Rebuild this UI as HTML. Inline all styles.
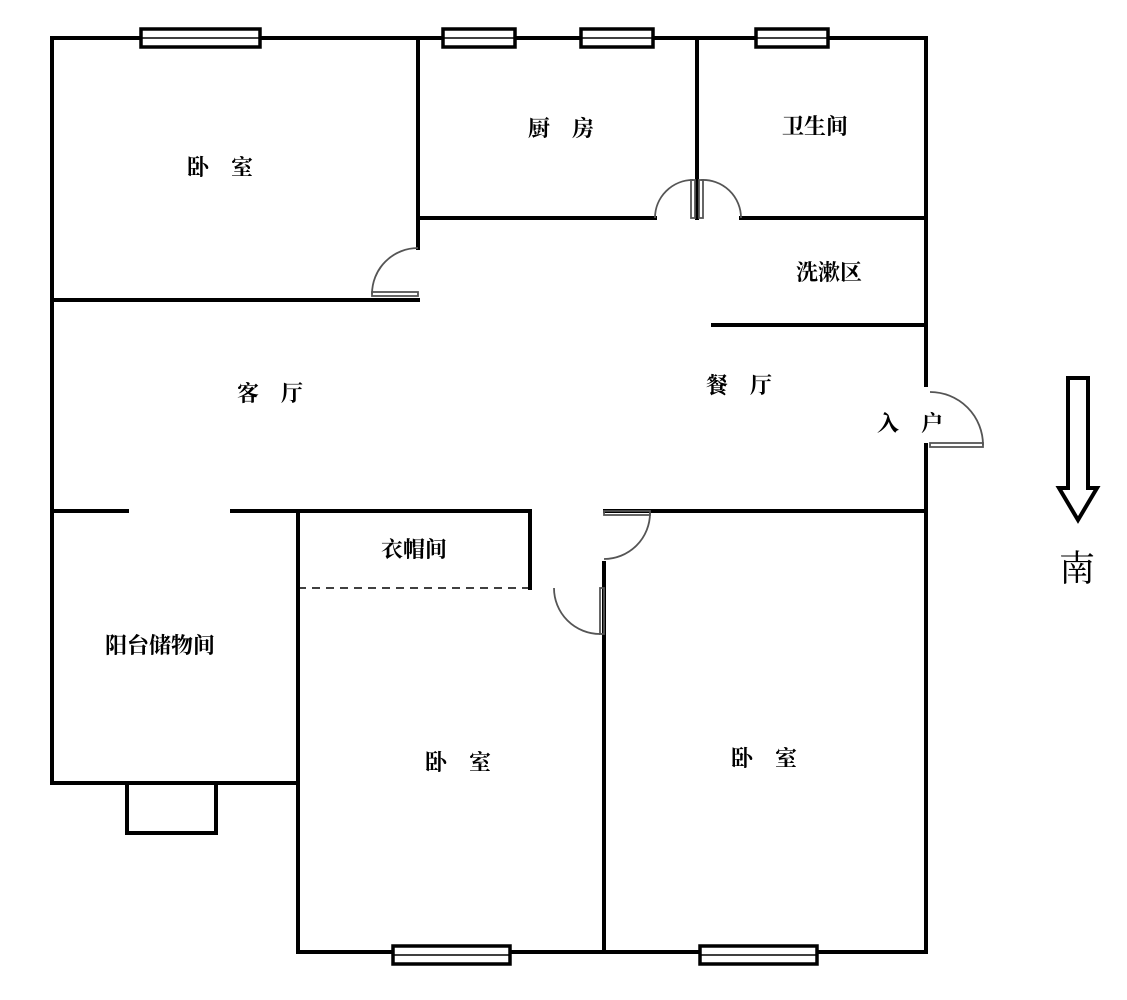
<!DOCTYPE html>
<html><head><meta charset="utf-8"><style>
html,body{margin:0;padding:0;background:#fff;}
svg{display:block;}
text{font-family:"Liberation Serif","Noto Serif CJK SC","Noto Sans CJK SC",serif;font-size:22px;font-weight:bold;fill:#000;text-anchor:middle;dominant-baseline:middle;}
</style></head><body>
<svg width="1127" height="1000" viewBox="0 0 1127 1000" xmlns="http://www.w3.org/2000/svg">
<g stroke="#000" stroke-width="4" fill="none" stroke-linecap="square">
<path d="M52 38 H926 V385 M926 445 V952 H298 V511"/>
<path d="M52 38 V783 H298"/>
<path d="M418 38 V248 M418 300 H52"/>
<path d="M418 218 H655 M741 218 H926"/>
<path d="M697 38 V218"/>
<path d="M713 325 H926"/>
<path d="M52 511 H127 M232 511 H530 V588"/>
<path d="M605 511 H926"/>
<path d="M604 563 V952"/>
<path d="M127 783 V833 H216 V783"/>
</g>
<line x1="298" y1="588" x2="530" y2="588" stroke="#000" stroke-width="1.5" stroke-dasharray="8,6"/>
<g stroke="#000" stroke-width="3.5" fill="#fff">
<rect x="141" y="29" width="119" height="18"/>
<rect x="443" y="29" width="72" height="18"/>
<rect x="581" y="29" width="72" height="18"/>
<rect x="756" y="29" width="72" height="18"/>
<rect x="393" y="946" width="117" height="18"/>
<rect x="700" y="946" width="117" height="18"/>
</g>
<g stroke="#000" stroke-width="1.5">
<line x1="141" y1="38" x2="260" y2="38"/>
<line x1="443" y1="38" x2="515" y2="38"/>
<line x1="581" y1="38" x2="653" y2="38"/>
<line x1="756" y1="38" x2="828" y2="38"/>
<line x1="393" y1="955" x2="510" y2="955"/>
<line x1="700" y1="955" x2="817" y2="955"/>
</g>
<g stroke="#555" stroke-width="1.8" fill="none">
<path d="M372 294 A46 46 0 0 1 418 248"/>
<rect x="372" y="292" width="46" height="4"/>
<path d="M655 218 A38 38 0 0 1 693 180"/>
<rect x="691" y="180" width="4" height="38"/>
<path d="M741 218 A38 38 0 0 0 701 180"/>
<rect x="699" y="180" width="4" height="38"/>
<path d="M930 392 A53 53 0 0 1 983 445"/>
<rect x="930" y="443" width="53" height="4"/>
<path d="M650 513 A46 46 0 0 1 604 559"/>
<rect x="604" y="511" width="46" height="4"/>
<path d="M554 588 A46 46 0 0 0 600 634"/>
<rect x="600" y="588" width="4" height="46"/>
</g>
<path d="M1068 378 H1088 V488 H1097 L1078 520 L1059 488 H1068 Z" stroke="#000" stroke-width="4" fill="#fff"/>
<text x="1077" y="572" style="font-size:36px;font-weight:normal">南</text>
<text x="220" y="170">卧&#8195;室</text>
<text x="561" y="131">厨&#8195;房</text>
<text x="815" y="129">卫生间</text>
<text x="829" y="275">洗漱区</text>
<text x="270" y="396">客&#8195;厅</text>
<text x="739" y="388">餐&#8195;厅</text>
<text x="910" y="426">入&#8195;户</text>
<text x="414" y="552">衣帽间</text>
<text x="160" y="648">阳台储物间</text>
<text x="458" y="765">卧&#8195;室</text>
<text x="764" y="761">卧&#8195;室</text>
</svg>
</body></html>
